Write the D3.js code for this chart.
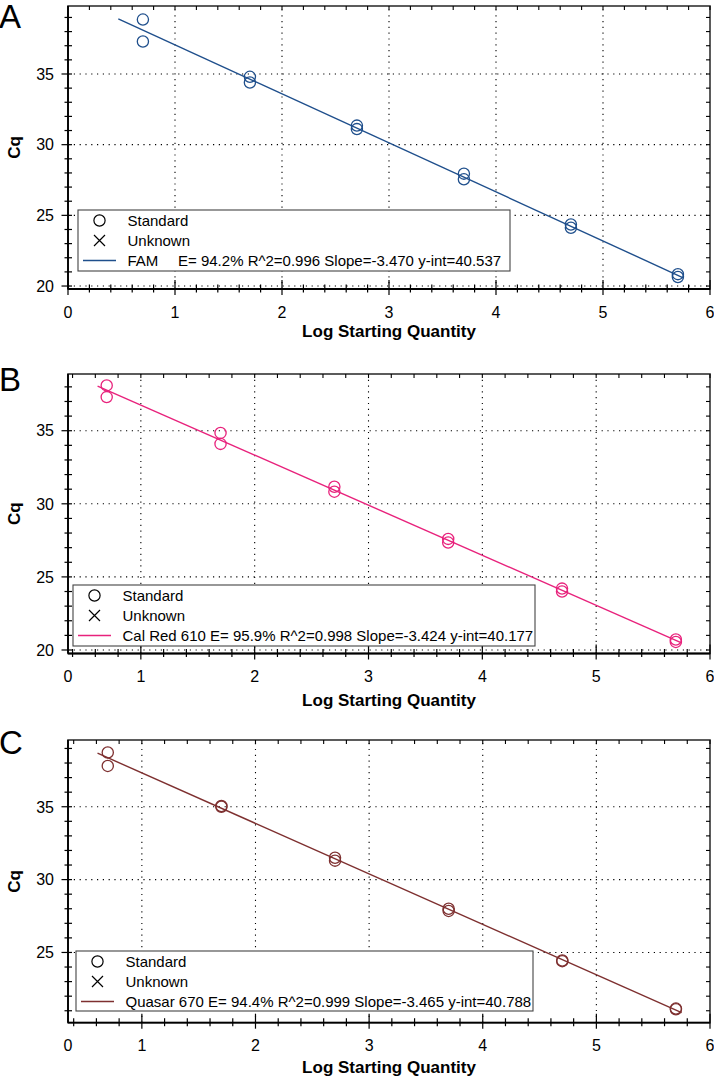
<!DOCTYPE html>
<html>
<head>
<meta charset="utf-8">
<script src="https://cdn.jsdelivr.net/npm/d3@7"></script>
<style>
  html, body { margin: 0; padding: 0; background: #fff; }
  svg { display: block; font-family: "Liberation Sans", Arial, sans-serif; }
</style>
</head>
<body>
<svg id="chart" width="714" height="1076"></svg>
<script>
// ---------------- data ----------------
const panelLetters = ["A", "B", "C"];
const logQty = [0.7, 0.7, 1.7, 1.7, 2.7, 2.7, 3.7, 3.7, 4.7, 4.7, 5.7, 5.7];
const cqFAM = [38.85, 37.3, 34.8, 34.4, 31.35, 31.1, 27.95, 27.55, 24.35, 24.12, 20.84, 20.64];
const cqCalRed = [38.1, 37.3, 34.85, 34.1, 31.17, 30.83, 27.6, 27.35, 24.2, 24.0, 20.72, 20.55];
const cqQuasar = [38.72, 37.8, 35.05, 35.0, 31.5, 31.3, 28.0, 27.85, 24.45, 24.4, 21.15, 21.1];
const dyeNames = ["FAM", "Cal Red 610", "Quasar 670"];
const fitStats = [
  "E= 94.2% R^2=0.996 Slope=-3.470 y-int=40.537",
  "E= 95.9% R^2=0.998 Slope=-3.424 y-int=40.177",
  "E= 94.4% R^2=0.999 Slope=-3.465 y-int=40.788"
];
const slopes = [-3.470, -3.424, -3.465];
const intercepts = [40.537, 40.177, 40.788];
const fitRanges = [[0.47, 5.75], [0.62, 5.75], [0.61, 5.75]];
const xDomains = [[0, 6], [0.36, 6], [0.35, 6]];
const yDomains = [[19.79, 39.81], [19.76, 38.88], [20.18, 39.58]];
const xTickLabels = ["0", "1", "2", "3", "4", "5", "6"];
const yTickValues = [20, 25, 30, 35];
const legendLabels = ["Standard", "Unknown"];
const xTitle = "Log Starting Quantity";
const yTitle = "Cq";

// ---------------- layout / style ----------------
const colors = ["#1f4f8c", "#e8227c", "#7e3030"];
const cqSeries = [cqFAM, cqCalRed, cqQuasar];
const layout = [
  { top: 6, bottom: 289, letterY: 28, titleY: 337, legend: [78, 210, 510, 271] },
  { top: 374, bottom: 653.5, letterY: 391, titleY: 706, legend: [73, 585, 535, 646] },
  { top: 740, bottom: 1022.7, letterY: 754, titleY: 1073, legend: [76, 951, 533, 1011] }
];
const L = 68, R = 710;

const svg = d3.select("#chart");

panelLetters.forEach((letter, i) => {
  const lay = layout[i];
  const x = d3.scaleLinear().domain(xDomains[i]).range([L, R]);
  const y = d3.scaleLinear().domain(yDomains[i]).range([lay.bottom, lay.top]);
  const g = svg.append("g");
  const [x0, x1] = xDomains[i];
  const [y0, y1] = yDomains[i];

  // minor tick positions
  const xMinor = d3.range(Math.ceil(x0 / 0.2 - 1e-6), Math.floor(x1 / 0.2 + 1e-6) + 1).map(k => +(k * 0.2).toFixed(2));
  const yMinor = d3.range(Math.ceil(y0), Math.floor(y1) + 1);
  const xMajor = d3.range(1, 7).filter(v => v >= x0 && v <= x1);
  const yMajor = yTickValues.filter(v => v >= y0 && v <= y1);

  // gridlines (dotted)
  g.append("g").selectAll("line").data(xMajor.filter(v => v < 6)).join("line")
    .attr("x1", d => x(d)).attr("x2", d => x(d))
    .attr("y1", lay.bottom).attr("y2", lay.top)
    .attr("stroke", "#000").attr("stroke-width", 1.1).attr("stroke-dasharray", "1.2,4.6");
  g.append("g").selectAll("line").data(yMajor).join("line")
    .attr("x1", L).attr("x2", R)
    .attr("y1", d => y(d)).attr("y2", d => y(d))
    .attr("stroke", "#000").attr("stroke-width", 1.1).attr("stroke-dasharray", "1.2,4.6");

  // frame
  g.append("rect").attr("x", L).attr("y", lay.top).attr("width", R - L).attr("height", lay.bottom - lay.top)
    .attr("fill", "none").attr("stroke", "#333").attr("stroke-width", 1.6);
  g.append("line").attr("x1", L).attr("x2", R).attr("y1", lay.bottom).attr("y2", lay.bottom)
    .attr("stroke", "#000").attr("stroke-width", 1.8);
  g.append("line").attr("x1", L).attr("x2", L).attr("y1", lay.top).attr("y2", lay.bottom)
    .attr("stroke", "#000").attr("stroke-width", 1.8);

  // bottom ticks (crossing)
  g.append("g").selectAll("line").data(xMinor).join("line")
    .attr("x1", d => x(d)).attr("x2", d => x(d))
    .attr("y1", d => lay.bottom - (Number.isInteger(d) ? 9 : 4.5))
    .attr("y2", d => lay.bottom + (Number.isInteger(d) ? 6 : 3.5))
    .attr("stroke", "#000").attr("stroke-width", 1.2);
  // top ticks (inward)
  g.append("g").selectAll("line").data(xMinor).join("line")
    .attr("x1", d => x(d)).attr("x2", d => x(d))
    .attr("y1", lay.top).attr("y2", lay.top + 4)
    .attr("stroke", "#000").attr("stroke-width", 1.1);
  // left ticks (crossing)
  g.append("g").selectAll("line").data(yMinor).join("line")
    .attr("y1", d => y(d)).attr("y2", d => y(d))
    .attr("x1", d => L - (d % 5 === 0 ? 6.5 : 3.5))
    .attr("x2", L + 4)
    .attr("stroke", "#000").attr("stroke-width", 1.2);
  // right ticks (inward)
  g.append("g").selectAll("line").data(yMinor).join("line")
    .attr("y1", d => y(d)).attr("y2", d => y(d))
    .attr("x1", R - 4).attr("x2", R)
    .attr("stroke", "#000").attr("stroke-width", 1.1);

  // tick labels
  const xLabelVals = [x0].concat(xMajor.filter(v => v > x0 + 0.5));
  if (x0 === 0) xLabelVals.shift();
  const xLabelData = (x0 === 0 ? [0].concat(xMajor) : xLabelVals);
  g.append("g").selectAll("text").data(xLabelData).join("text")
    .attr("x", d => x(d)).attr("y", lay.bottom + 28.5)
    .attr("text-anchor", "middle").attr("font-size", 16).attr("fill", "#000")
    .text((d, k) => xTickLabels[k]);
  g.append("g").selectAll("text").data(yMajor).join("text")
    .attr("x", 54).attr("y", d => y(d)).attr("dy", "0.36em")
    .attr("text-anchor", "end").attr("font-size", 16).attr("fill", "#000")
    .text(d => d);

  // axis titles
  g.append("text").attr("x", (L + R) / 2).attr("y", lay.titleY)
    .attr("text-anchor", "middle").attr("font-size", 17).attr("font-weight", "bold")
    .text(xTitle);
  g.append("text")
    .attr("transform", `translate(20,${(lay.top + lay.bottom) / 2}) rotate(-90)`)
    .attr("text-anchor", "middle").attr("font-size", 17).attr("font-weight", "bold")
    .text(yTitle);

  // panel letter
  svg.append("text").attr("x", -1).attr("y", lay.letterY)
    .attr("font-size", 33).attr("fill", "#000").text(letter);

  // fit line
  const fitPts = fitRanges[i].map(v => [v, intercepts[i] + slopes[i] * v]);
  g.append("path").datum(fitPts)
    .attr("d", d3.line().x(d => x(d[0])).y(d => y(d[1])))
    .attr("fill", "none").attr("stroke", colors[i]).attr("stroke-width", 1.4);

  // standard points
  g.append("g").selectAll("circle").data(logQty.map((v, k) => [v, cqSeries[i][k]])).join("circle")
    .attr("cx", d => x(d[0])).attr("cy", d => y(d[1])).attr("r", 5.6)
    .attr("fill", "none").attr("stroke", colors[i]).attr("stroke-width", 1.3);

  // legend
  const [lx0, ly0, lx1, ly1] = lay.legend;
  const lg = g.append("g");
  lg.append("rect").attr("x", lx0).attr("y", ly0).attr("width", lx1 - lx0).attr("height", ly1 - ly0)
    .attr("fill", "#fff").attr("stroke", "#444").attr("stroke-width", 1.1);
  const rowY = [ly0 + 10.5, ly0 + 30.5, ly0 + 50.5];
  lg.append("circle").attr("cx", lx0 + 21.5).attr("cy", rowY[0]).attr("r", 5.6)
    .attr("fill", "none").attr("stroke", "#000").attr("stroke-width", 1.2);
  const cx = lx0 + 21.5, cy = rowY[1];
  lg.append("path").attr("d", `M${cx - 5.5},${cy - 5.5}L${cx + 5.5},${cy + 5.5}M${cx - 5.5},${cy + 5.5}L${cx + 5.5},${cy - 5.5}`)
    .attr("stroke", "#000").attr("stroke-width", 1.2).attr("fill", "none");
  lg.append("line").attr("x1", lx0 + 5).attr("x2", lx0 + 38).attr("y1", rowY[2]).attr("y2", rowY[2])
    .attr("stroke", colors[i]).attr("stroke-width", 1.3);
  legendLabels.forEach((t, k) => {
    lg.append("text").attr("x", lx0 + 49.5).attr("y", rowY[k]).attr("dy", "0.36em")
      .attr("font-size", 15).text(t);
  });
  if (i === 0) {
    lg.append("text").attr("x", lx0 + 49.5).attr("y", rowY[2]).attr("dy", "0.36em")
      .attr("font-size", 15).text(dyeNames[i]);
    lg.append("text").attr("x", lx0 + 100).attr("y", rowY[2]).attr("dy", "0.36em")
      .attr("font-size", 15).text(fitStats[i]);
  } else {
    lg.append("text").attr("x", lx0 + 49.5).attr("y", rowY[2]).attr("dy", "0.36em")
      .attr("font-size", 15).text(dyeNames[i] + " " + fitStats[i]);
  }
});
</script>
</body>
</html>
